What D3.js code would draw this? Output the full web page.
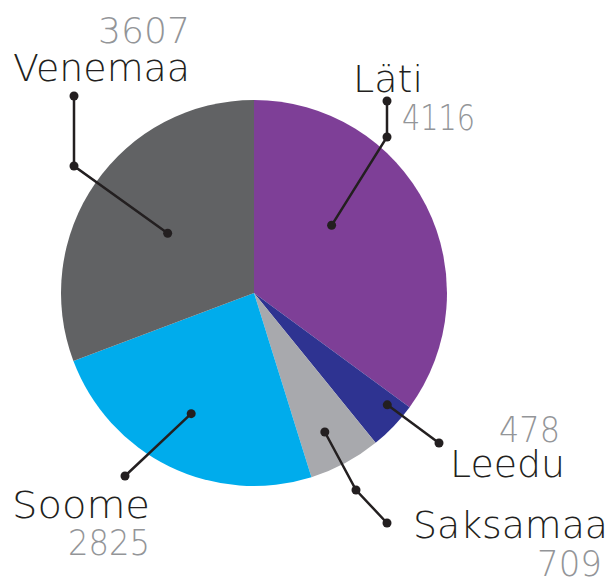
<!DOCTYPE html>
<html><head><meta charset="utf-8">
<script src="https://cdn.jsdelivr.net/npm/d3@7"></script>
<style>
html,body{margin:0;padding:0;background:#fff;}
svg{display:block;}
text{font-family:"DejaVu Sans","Lato",sans-serif;font-weight:200;}
</style></head>
<body>
<script>
const countries = ["Läti","Leedu","Saksamaa","Soome","Venemaa"];
const values = [4116, 478, 709, 2825, 3607];
const colors = ["#7e3f97","#2e3391","#a8a9ad","#00acec","#616264"];

// leader / label layout (positions and text widths only)
const layout = [
  {dotAng:48.9, dotR:103, pts:[[387,137],[387,101]], name:[423,92,70], num:[475,130,73]},
  {dotAng:130, dotR:174, pts:[[439,443]], name:[565,477,115], num:[560,442,61]},
  {dotAng:153, dotR:156, pts:[[356,490],[387,523]], name:[608,538,195], num:[602,576,65]},
  {dotAng:207.5, dotR:136, pts:[[125,476]], name:[150,518,138], num:[150,555,82]},
  {dotAng:304.7, dotR:105, pts:[[74,166],[74,96]], name:[190,81,177], num:[190,43,92]}
];

const W=613,H=582, cx=254, cy=293, R=193;
const svg=d3.select("body").append("svg").attr("width",W).attr("height",H);
const data = countries.map((c,i)=>({name:c,value:values[i],color:colors[i],lay:layout[i]}));
const pie=d3.pie().value(d=>d.value).sort(null);
const arc=d3.arc().innerRadius(0).outerRadius(R);
const g=svg.append("g").attr("transform",`translate(${cx},${cy})`);
g.selectAll("path").data(pie(data)).join("path").attr("d",arc).attr("fill",d=>d.data.color);

data.forEach(d=>{
  const L=d.lay;
  const p=d3.pointRadial(L.dotAng*Math.PI/180, L.dotR);
  const start=[cx+p[0], cy+p[1]];
  const pts=[start, ...L.pts];
  svg.append("path").attr("d",d3.line()(pts)).attr("fill","none").attr("stroke","#231f20").attr("stroke-width",2.5);
  pts.forEach(q=>svg.append("circle").attr("cx",q[0]).attr("cy",q[1]).attr("r",4.5).attr("fill","#231f20"));
  svg.append("text").attr("x",L.name[0]-L.name[2]).attr("y",L.name[1])
    .attr("textLength",L.name[2]).attr("lengthAdjust","spacingAndGlyphs")
    .attr("font-size",38).attr("fill","#231f20").text(d.name);
  svg.append("text").attr("x",L.num[0]-L.num[2]).attr("y",L.num[1])
    .attr("textLength",L.num[2]).attr("lengthAdjust","spacingAndGlyphs")
    .attr("font-size",36).attr("fill","#939598").text(d.value);
});
</script>
</body></html>
